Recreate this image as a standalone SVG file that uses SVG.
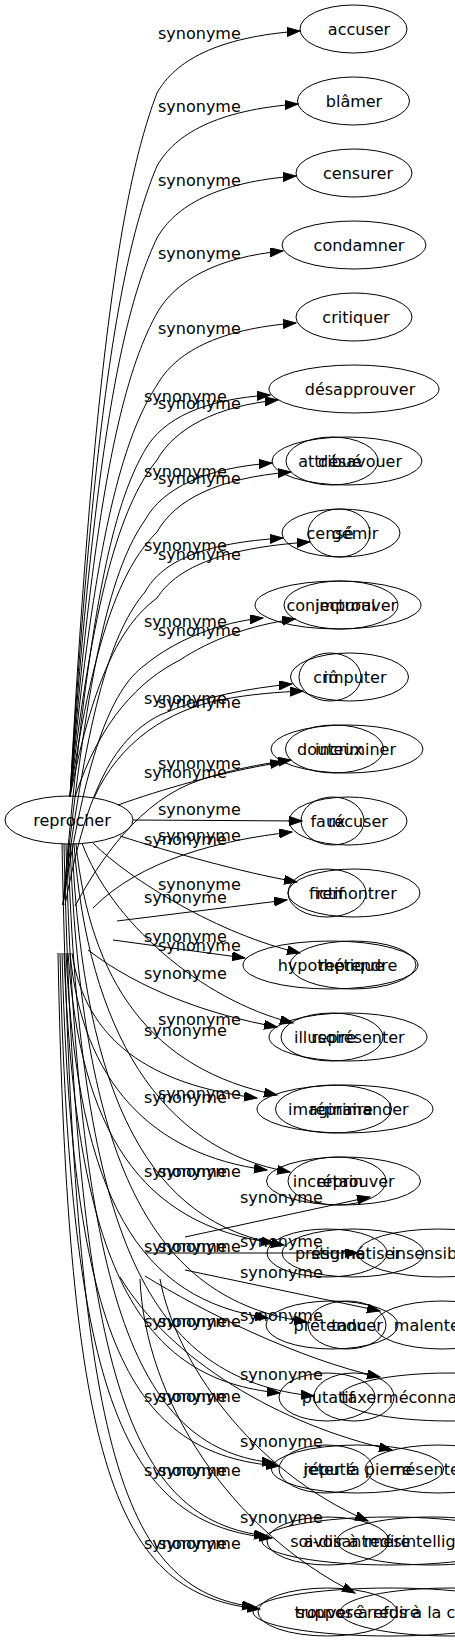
<svg xmlns="http://www.w3.org/2000/svg" width="455" height="1643" viewBox="0 0 455 1643">
<style>
ellipse{fill:none;stroke:#000;stroke-width:1}
text{font-family:"DejaVu Sans","Noto Sans",sans-serif;font-size:16px;fill:#000}
.t{text-anchor:middle}
#edges path{fill:none;stroke:#000;stroke-width:1;marker-end:url(#ah)}
</style>
<defs>
<marker id="ah" markerUnits="userSpaceOnUse" markerWidth="14" markerHeight="10" refX="13" refY="4.5" orient="auto">
<path d="M0,0 L13,4.5 L0,9 z" fill="#000" stroke="#000" stroke-width="1"/>
</marker>
</defs>
<rect width="455" height="1643" fill="#fff"/>
<g id="edges">
<path d="M70,797 C95,339 125,177 157,93 C175,61 217,37 300,31"/>
<path d="M70,797 C95,387 125,242 157,166 C175,134 217,110 298,104"/>
<path d="M70,797 C95,434 125,305 157,238 C175,206 217,182 296,176"/>
<path d="M70,797 C95,482 125,371 157,313 C175,281 217,257 283,251"/>
<path d="M70,797 C95,529 125,434 157,385 C175,353 217,329 296,323"/>
<path d="M70,797 C95,578 125,500 157,460 C175,428 217,406 278,400"/>
<path d="M63,905 C88,609 113,505 145,450 C163,418 205,399 270,395"/>
<path d="M70,797 C95,625 125,564 157,532 C175,500 217,478 291,472"/>
<path d="M63,905 C88,655 113,566 145,520 C163,488 205,468 272,463"/>
<path d="M70,797 C95,668 125,622 157,598 C175,570 217,548 310,542"/>
<path d="M63,905 C88,702 113,630 145,592 C163,560 205,543 283,538"/>
<path d="M75,797 C100,720 140,680 180,660 C210,640 250,625 295,619"/>
<path d="M63,905 C85,760 110,690 145,665 C175,640 220,622 263,618"/>
<path d="M94,798 C120,740 170,710 220,700 C250,694 280,692 303,691"/>
<path d="M65,905 C85,800 110,740 160,715 C200,697 250,688 292,684"/>
<path d="M118,805 C160,790 220,772 283,762"/>
<path d="M75,906 C100,860 140,800 200,780 C230,770 260,764 291,760"/>
<path d="M133,820 L302,821"/>
<path d="M93,908 C140,860 220,840 292,832"/>
<path d="M120,836 C170,852 240,872 297,882"/>
<path d="M117,921 L287,900"/>
<path d="M93,843 C130,880 220,935 300,953"/>
<path d="M113,940 L245,958"/>
<path d="M82,843 C110,920 200,1000 293,1023"/>
<path d="M88,950 C140,990 210,1015 277,1027"/>
<path d="M76,844 C90,980 150,1070 277,1095"/>
<path d="M72,953 C85,1040 150,1085 257,1098"/>
<path d="M74,844 C88,1030 160,1150 290,1172"/>
<path d="M70,953 C82,1080 150,1155 267,1170"/>
<path d="M185,1237 L370,1197"/>
<path d="M72,844 C84,1100 150,1225 284,1245"/>
<path d="M68,953 C80,1130 140,1225 274,1243"/>
<path d="M145,1253 L358,1253"/>
<path d="M70,844 C82,1160 150,1300 307,1322"/>
<path d="M66,953 C78,1200 140,1300 268,1318"/>
<path d="M185,1270 L380,1311"/>
<path d="M68,844 C80,1240 150,1380 314,1396"/>
<path d="M64,953 C76,1270 140,1380 280,1393"/>
<path d="M145,1276 C200,1310 300,1360 380,1377"/>
<path d="M66,844 C78,1310 140,1450 275,1463"/>
<path d="M62,953 C72,1340 130,1455 279,1466"/>
<path d="M120,1277 C170,1360 280,1425 392,1450"/>
<path d="M64,844 C76,1380 130,1520 267,1536"/>
<path d="M60,953 C70,1400 125,1525 272,1538"/>
<path d="M160,1279 C175,1360 250,1470 368,1521"/>
<path d="M62,844 C74,1450 120,1590 255,1607"/>
<path d="M58,953 C68,1470 115,1595 260,1609"/>
<path d="M140,1279 C145,1400 230,1530 355,1593"/>
<g id="labels">
<text x="158" y="39">synonyme</text>
<text x="158" y="112">synonyme</text>
<text x="158" y="186">synonyme</text>
<text x="158" y="259">synonyme</text>
<text x="158" y="334">synonyme</text>
<text x="144" y="402">synonyme</text>
<text x="158" y="409">synonyme</text>
<text x="144" y="477">synonyme</text>
<text x="158" y="484">synonyme</text>
<text x="144" y="551">synonyme</text>
<text x="158" y="560">synonyme</text>
<text x="144" y="627">synonyme</text>
<text x="158" y="636">synonyme</text>
<text x="144" y="704">synonyme</text>
<text x="158" y="708">synonyme</text>
<text x="158" y="769">synonyme</text>
<text x="144" y="778">synonyme</text>
<text x="158" y="815">synonyme</text>
<text x="158" y="841">synonyme</text>
<text x="144" y="845">synonyme</text>
<text x="158" y="890">synonyme</text>
<text x="144" y="903">synonyme</text>
<text x="144" y="942">synonyme</text>
<text x="158" y="951">synonyme</text>
<text x="144" y="979">synonyme</text>
<text x="158" y="1025">synonyme</text>
<text x="144" y="1036">synonyme</text>
<text x="158" y="1099">synonyme</text>
<text x="144" y="1103">synonyme</text>
<text x="144" y="1177">synonyme</text>
<text x="158" y="1177">synonyme</text>
<text x="240" y="1203">synonyme</text>
<text x="144" y="1252">synonyme</text>
<text x="158" y="1252">synonyme</text>
<text x="240" y="1247">synonyme</text>
<text x="240" y="1278">synonyme</text>
<text x="144" y="1327">synonyme</text>
<text x="158" y="1327">synonyme</text>
<text x="240" y="1321">synonyme</text>
<text x="240" y="1380">synonyme</text>
<text x="144" y="1402">synonyme</text>
<text x="158" y="1402">synonyme</text>
<text x="240" y="1447">synonyme</text>
<text x="144" y="1476">synonyme</text>
<text x="158" y="1476">synonyme</text>
<text x="240" y="1523">synonyme</text>
<text x="144" y="1549">synonyme</text>
<text x="158" y="1549">synonyme</text>
</g>
</g>
<g id="node-reprocher"><ellipse cx="69" cy="820" rx="64" ry="24"/><text class="t" x="72" y="826">reprocher</text></g>
<g id="node-accuser"><ellipse cx="353.5" cy="29" rx="53.5" ry="24"/><text class="t" x="359" y="35">accuser</text></g>
<g id="node-blamer"><ellipse cx="353.5" cy="101" rx="56" ry="24"/><text class="t" x="354" y="107">blâmer</text></g>
<g id="node-censurer"><ellipse cx="354" cy="173" rx="58" ry="24"/><text class="t" x="358" y="179">censurer</text></g>
<g id="node-condamner"><ellipse cx="354" cy="245" rx="72" ry="24"/><text class="t" x="359" y="251">condamner</text></g>
<g id="node-critiquer"><ellipse cx="354" cy="317" rx="58" ry="24"/><text class="t" x="356" y="323">critiquer</text></g>
<g id="node-desapprouver"><ellipse cx="354" cy="389" rx="85" ry="24"/><text class="t" x="360" y="395">désapprouver</text></g>
<g id="node-desavouer"><ellipse cx="347" cy="461" rx="75" ry="24"/><text class="t" x="360" y="467">désavouer</text></g>
<g id="node-attribue"><ellipse cx="332" cy="461" rx="46" ry="24"/><text class="t" x="330" y="467">attribué</text></g>
<g id="node-gemir"><ellipse cx="341" cy="533" rx="59" ry="24"/><text class="t" x="355" y="539">gémir</text></g>
<g id="node-cense"><ellipse cx="339" cy="533" rx="31" ry="24"/><text class="t" x="330" y="539">censé</text></g>
<g id="node-improuver"><ellipse cx="338" cy="605" rx="83" ry="24"/><text class="t" x="356" y="611">improuver</text></g>
<g id="node-conjectural"><ellipse cx="341" cy="605" rx="57" ry="24"/><text class="t" x="331" y="611">conjectural</text></g>
<g id="node-imputer"><ellipse cx="349.5" cy="677" rx="59" ry="24"/><text class="t" x="355" y="683">imputer</text></g>
<g id="node-cru"><ellipse cx="330" cy="677" rx="31" ry="24"/><text class="t" x="326" y="683">crû</text></g>
<g id="node-incriminer"><ellipse cx="347" cy="749" rx="76" ry="24"/><text class="t" x="355.5" y="755">incriminer</text></g>
<g id="node-douteux"><ellipse cx="334.5" cy="749" rx="49" ry="24"/><text class="t" x="330" y="755">douteux</text></g>
<g id="node-recuser"><ellipse cx="348" cy="821" rx="59" ry="24"/><text class="t" x="358" y="827">récuser</text></g>
<g id="node-faux"><ellipse cx="332.5" cy="821" rx="31.5" ry="24"/><text class="t" x="328" y="827">faux</text></g>
<g id="node-remontrer"><ellipse cx="354" cy="893" rx="66" ry="24"/><text class="t" x="356.5" y="899">remontrer</text></g>
<g id="node-fictif"><ellipse cx="327" cy="893" rx="39" ry="24"/><text class="t" x="326.5" y="899">fictif</text></g>
<g id="node-reprendre"><ellipse cx="353" cy="965" rx="63" ry="24"/><text class="t" x="358" y="971">reprendre</text></g>
<g id="node-hypothetique"><ellipse cx="330.5" cy="965" rx="87.5" ry="24"/><text class="t" x="331" y="971">hypothétique</text></g>
<g id="node-representer"><ellipse cx="348" cy="1037" rx="79" ry="24"/><text class="t" x="358" y="1043">représenter</text></g>
<g id="node-illusoire"><ellipse cx="332" cy="1037" rx="51" ry="24"/><text class="t" x="325" y="1043">illusoire</text></g>
<g id="node-reprimander"><ellipse cx="345" cy="1109" rx="88" ry="24"/><text class="t" x="359" y="1115">réprimander</text></g>
<g id="node-imaginaire"><ellipse cx="333.5" cy="1109" rx="58" ry="24"/><text class="t" x="330.5" y="1115">imaginaire</text></g>
<g id="node-reprouver"><ellipse cx="343.5" cy="1181" rx="77" ry="24"/><text class="t" x="355.5" y="1187">réprouver</text></g>
<g id="node-incertain"><ellipse cx="337" cy="1181" rx="49" ry="24"/><text class="t" x="328" y="1187">incertain</text></g>
<g id="node-stigmatiser"><ellipse cx="353" cy="1253" rx="71" ry="24"/><text class="t" x="356" y="1259">stigmatiser</text></g>
<g id="node-presume"><ellipse cx="327" cy="1253" rx="60" ry="24"/><text class="t" x="330" y="1259">présumé</text></g>
<g id="node-insensibilite"><ellipse cx="439" cy="1253" rx="81" ry="24"/><text class="t" x="439" y="1259">insensibilité</text></g>
<g id="node-tancer"><ellipse cx="347" cy="1325" rx="39" ry="24"/><text class="t" x="357" y="1331">tancer</text></g>
<g id="node-pretendu"><ellipse cx="332" cy="1325" rx="66" ry="24"/><text class="t" x="330" y="1331">prétendu</text></g>
<g id="node-malentendu"><ellipse cx="442" cy="1325" rx="68" ry="24"/><text class="t" x="442" y="1331">malentendu</text></g>
<g id="node-taxer"><ellipse cx="354" cy="1397" rx="40" ry="24"/><text class="t" x="362" y="1403">taxer</text></g>
<g id="node-putatif"><ellipse cx="327" cy="1397" rx="48" ry="24"/><text class="t" x="328" y="1403">putatif</text></g>
<g id="node-meconnaissance"><ellipse cx="450" cy="1397" rx="110" ry="24"/><text class="t" x="450" y="1403">méconnaissance</text></g>
<g id="node-jeter"><ellipse cx="357.5" cy="1469" rx="86" ry="24"/><text class="t" x="357.5" y="1475">jeter la pierre</text></g>
<g id="node-repute"><ellipse cx="326" cy="1469" rx="47" ry="24"/><text class="t" x="329.5" y="1475">réputé</text></g>
<g id="node-mesentente"><ellipse cx="438" cy="1469" rx="73" ry="24"/><text class="t" x="438" y="1475">mésentente</text></g>
<g id="node-avoir"><ellipse cx="390" cy="1541" rx="128" ry="24"/><text class="t" x="357" y="1547">avoir à redire</text></g>
<g id="node-soidisant"><ellipse cx="328" cy="1541" rx="61" ry="24"/><text class="t" x="329" y="1547">soi-disant</text></g>
<g id="node-mesintelligence"><ellipse cx="431" cy="1541" rx="94" ry="24"/><text class="t" x="431" y="1547">mésintelligence</text></g>
<g id="node-trouver"><ellipse cx="390" cy="1612" rx="137" ry="24"/><text class="t" x="357" y="1618">trouver à redire</text></g>
<g id="node-suppose"><ellipse cx="327.5" cy="1612" rx="69.5" ry="24"/><text class="t" x="329.5" y="1618">supposé</text></g>
<g id="node-refus"><ellipse cx="450" cy="1612" rx="110" ry="24"/><text x="367" y="1618">refus à la compréhension</text></g>
</svg>
